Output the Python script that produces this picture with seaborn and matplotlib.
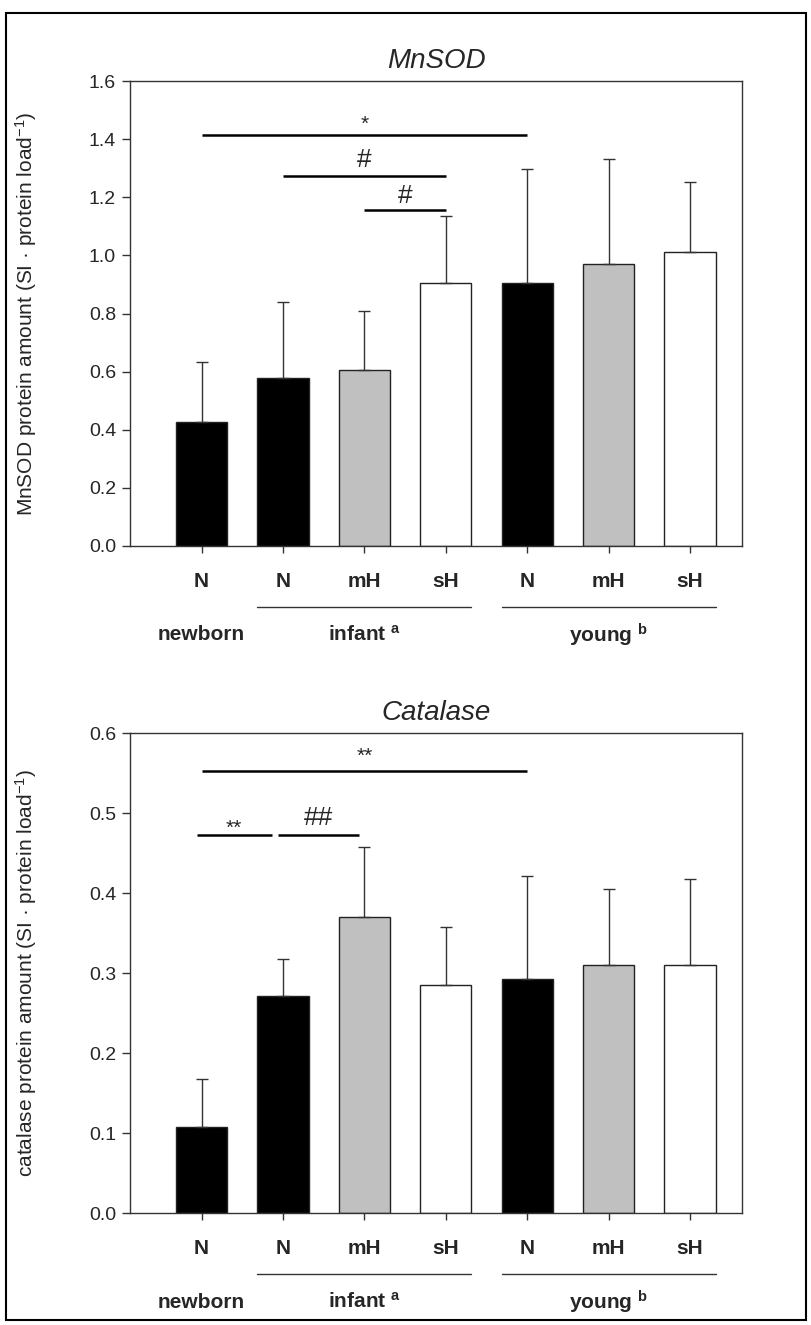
import numpy as np
import pandas as pd
import seaborn as sns
import matplotlib.pyplot as plt
from matplotlib.patches import Rectangle
from matplotlib.lines import Line2D
from matplotlib.transforms import offset_copy

# groups / conditions
bar_ids = ["newborn_N", "infant_N", "infant_mH", "infant_sH", "young_N", "young_mH", "young_sH"]
tick_labels = ["N", "N", "mH", "sH", "N", "mH", "sH"]
bar_colors = ["black", "black", "#c0c0c0", "white", "black", "#c0c0c0", "white"]

# MnSOD panel
mnsod_mean = [0.428, 0.579, 0.606, 0.906, 0.905, 0.970, 1.013]
mnsod_top = [0.634, 0.839, 0.810, 1.134, 1.297, 1.331, 1.252]
# Catalase panel
cat_mean = [0.108, 0.271, 0.370, 0.285, 0.292, 0.310, 0.310]
cat_top = [0.167, 0.317, 0.457, 0.358, 0.421, 0.405, 0.417]

# group labels below the axes: (label, first bar, last bar, underline)
groups = [("newborn", 0, 0, False), ("infant $^{\\mathbf{a}}$", 1, 3, True),
          ("young $^{\\mathbf{b}}$", 4, 6, True)]

# significance brackets: (x0, x1, y line, text, y text)
mnsod_sig = [(0, 4, 1.413, "*", 1.452), (1, 3, 1.273, "#", 1.328), (2, 3, 1.156, "#", 1.206)]
cat_sig = [(0, 4, 0.553, "**", 0.571), (-0.06, 0.86, 0.472, "**", 0.481), (0.94, 1.93, 0.472, "##", 0.494)]

sns.set_theme(style="white")
plt.rcParams['font.family'] = ['Liberation Sans', 'DejaVu Sans']
plt.rcParams['mathtext.fontset'] = 'custom'
plt.rcParams['mathtext.rm'] = 'Liberation Sans'
plt.rcParams['mathtext.it'] = 'Liberation Sans:italic'
plt.rcParams['mathtext.bf'] = 'Liberation Sans:bold'

fig = plt.figure(figsize=(8.11, 13.25), dpi=100)
W, H = 811, 1325
BW = 0.63


def px_axes(left, top, right, bottom):
    return fig.add_axes([left / W, 1 - bottom / H, (right - left) / W, (bottom - top) / H])


ax1 = px_axes(130, 81, 742, 546)
ax2 = px_axes(130, 733, 742, 1213)


def draw_panel(ax, means, tops, title, ylabel, ymax, step, sigs):
    df = pd.DataFrame({"id": bar_ids, "val": means})
    sns.barplot(data=df, x="id", y="val", hue="id", palette=bar_colors, order=bar_ids,
                hue_order=bar_ids, width=BW, edgecolor="#222222", linewidth=1.0,
                legend=False, ax=ax, saturation=1)
    xs = np.arange(len(bar_ids))
    err = np.array(tops) - np.array(means)
    ax.errorbar(xs, means, yerr=[np.zeros_like(err), err], fmt="none", ecolor="#333333",
                elinewidth=1.0, capsize=4.5, capthick=1.0, zorder=1)
    ax.set_xlim(-0.88, 6.64)
    ax.set_ylim(0, ymax)
    ticks = np.arange(0, ymax + step / 2, step)
    ax.set_yticks(ticks)
    ax.set_yticklabels([f"{v:.1f}" for v in ticks], fontsize=14)
    ax.set_xticks(xs)
    ax.set_xticklabels(tick_labels, fontsize=15, fontweight="bold")
    ax.tick_params(axis="x", direction="out", length=5, width=1, color="#333333", pad=14,
                   bottom=True)
    ax.tick_params(axis="y", direction="out", length=6, width=1, color="#333333", pad=4, left=True)
    for s in ax.spines.values():
        s.set_color("#333333")
        s.set_linewidth(1.0)
    ax.set_xlabel("")
    ax.set_ylabel(ylabel, fontsize=15)
    ax.yaxis.set_label_coords(-0.148, 0.5)
    ax.set_title(title, fontsize=20, style="italic", pad=9)

    for x0, x1, yl, txt, yt in sigs:
        ax.plot([x0, x1], [yl, yl], color="black", lw=1.8, solid_capstyle="butt")
        ax.text((x0 + x1) / 2, yt, txt, ha="center", va="center",
                fontsize=19 if "#" in txt else 15)

    tr = ax.get_xaxis_transform()
    line_tr = offset_copy(tr, fig=fig, y=-61, units="dots")
    text_tr = offset_copy(tr, fig=fig, y=-89, units="dots")
    for label, a, b, underline in groups:
        if underline:
            ax.add_line(Line2D([a - BW / 2, b + BW / 2], [0, 0], transform=line_tr,
                               color="#333333", lw=1.0, clip_on=False))
        ax.text((a + b) / 2, 0, label, transform=text_tr, ha="center", va="center",
                fontsize=15, fontweight="bold")


draw_panel(ax1, mnsod_mean, mnsod_top, "MnSOD",
           "MnSOD protein amount (SI · protein load$^{-1}$)", 1.6, 0.2, mnsod_sig)
draw_panel(ax2, cat_mean, cat_top, "Catalase",
           "catalase protein amount (SI · protein load$^{-1}$)", 0.6, 0.1, cat_sig)

# outer frame
fig.patches.append(Rectangle((6 / W, 5 / H), 800 / W, 1307 / H, transform=fig.transFigure,
                             fill=False, edgecolor="black", linewidth=1.5))

fig.savefig("out.png", dpi=100)
